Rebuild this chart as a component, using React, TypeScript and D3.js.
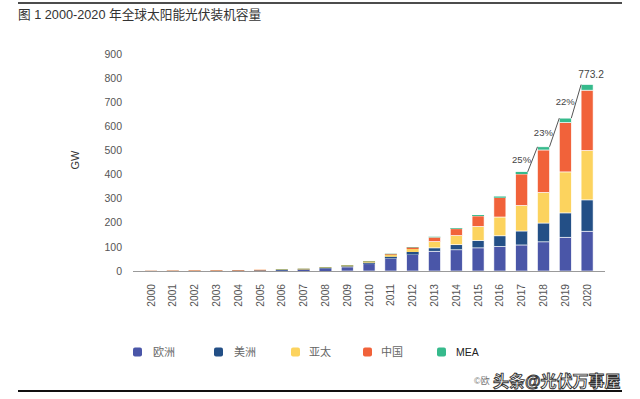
import React from "react";
import * as d3 from "d3";

const years = ["2000","2001","2002","2003","2004","2005","2006","2007","2008","2009","2010","2011","2012","2013","2014","2015","2016","2017","2018","2019","2020"];
const europe = [0.15,0.3,0.4,0.6,1.2,2.3,3.3,5.2,10.5,16.5,30,52,68,82,88,96,102,108,121,140,165];
const americas = [0.1,0.2,0.3,0.4,0.5,0.6,0.8,1.2,1.8,2.8,4.8,7.5,11,14,21,31,44,58,78,101,130];
const apac = [0.4,0.6,0.8,1.0,1.4,1.9,2.3,2.6,3.0,4.5,5.5,8,12,26,38,58,78,106,127,170,205];
const china = [0.02,0.03,0.04,0.05,0.06,0.07,0.08,0.1,0.14,0.3,0.9,3.3,7,18,28,43,80,130,176,205,250];
const mea = [0,0,0,0,0,0,0.1,0.1,0.1,0.2,0.3,0.6,1.5,2,3,4,5,9,13,18,23.2];
const seriesNames = ["欧洲","美洲","亚太","中国","MEA"];
const seriesColors = ["#4a56a8","#234f86","#fcd35e","#f1623a","#36ba8c"];
const yTicks = [0,100,200,300,400,500,600,700,800,900];
const growthYears = ["2017","2018","2019","2020"];
const growthLabels = ["25%","23%","22%"];
const finalLabel = "773.2";

export default function App() {
  const W = 640, H = 399;
  const y = d3.scaleLinear().domain([0, 900]).range([271, 54]);
  const x = d3.scaleBand<string>().domain(years).range([140.1, 598]).paddingInner(0.45).paddingOuter(0.225);
  const bw = x.bandwidth();
  const rows = years.map((yr, i) => ({ year: yr, s0: europe[i], s1: americas[i], s2: apac[i], s3: china[i], s4: mea[i] }));
  const keys = ["s0","s1","s2","s3","s4"];
  const stacked = d3.stack<any>().keys(keys)(rows);
  const totals = years.map((_, i) => europe[i] + americas[i] + apac[i] + china[i] + mea[i]);
  const font = "'Liberation Sans', Arial, 'Noto Sans CJK SC', sans-serif";

  const growthSegs = growthYears.slice(0, -1).map((yr, k) => {
    const i = years.indexOf(yr);
    const j = years.indexOf(growthYears[k + 1]);
    const x1 = (x(yr) as number) + bw;
    const y1 = y(totals[i]);
    const x2 = x(growthYears[k + 1]) as number;
    const y2 = y(totals[j]);
    return { x1, y1, x2, y2, label: growthLabels[k] };
  });
  const lastIdx = years.indexOf(growthYears[growthYears.length - 1]);

  const legendX = [133, 214, 291, 363, 437];
  const legendTextX = [153, 234, 309, 381, 456];

  return (
    <svg width={W} height={H} style={{ position: "absolute", left: 0, top: 0, background: "#fff" }} fontFamily={font}>
      <rect x={0} y={0} width={W} height={H} fill="#fff" />
      <line x1={18} x2={622} y1={3} y2={3} stroke="#111" strokeWidth={1.5} />
      <text x={18} y={18.5} fontSize={12.7} fill="#333">图 1 2000-2020 年全球太阳能光伏装机容量</text>

      {yTicks.map(t => (
        <text key={t} x={122} y={y(t)} dy="0.35em" textAnchor="end" fontSize={10.5} fill="#555">{t}</text>
      ))}
      <text transform={`translate(79,${160}) rotate(-90)`} textAnchor="middle" fontSize={11} fill="#333">GW</text>

      {stacked.map((layer, li) => (
        <g key={li} fill={seriesColors[li]}>
          {layer.map((d, i) => {
            const h = y(d[0]) - y(d[1]);
            if (h <= 0) return null;
            return <rect key={i} x={x(years[i])} y={y(d[1])} width={bw} height={Math.max(h, 0.4)} stroke="#fff" strokeWidth={h > 3 ? 0.6 : 0} />;
          })}
        </g>
      ))}

      <line x1={133} x2={605} y1={271.5} y2={271.5} stroke="#9a9a9a" strokeWidth={1} />

      {years.map(yr => (
        <text key={yr} transform={`translate(${(x(yr) as number) + bw / 2},284) rotate(-90)`} dy="0.35em" textAnchor="end" fontSize={10.2} fill="#555">{yr}</text>
      ))}

      {growthSegs.map((s, k) => {
        const mx = (s.x1 + s.x2) / 2, my = (s.y1 + s.y2) / 2;
        return (
          <g key={k}>
            <line x1={s.x1} y1={s.y1} x2={s.x2} y2={s.y2} stroke="#555" strokeWidth={1} />
            <text x={mx - 1.5} y={my} dy="0.35em" textAnchor="end" fontSize={9.5} fill="#444">{s.label}</text>
          </g>
        );
      })}
      <text x={(x(years[lastIdx]) as number) + bw / 2 + 4} y={y(totals[lastIdx]) - 7} textAnchor="middle" fontSize={10.2} fill="#444">{finalLabel}</text>

      {seriesNames.map((n, i) => (
        <g key={n}>
          <rect x={legendX[i]} y={347.5} width={9} height={9} rx={2} fill={seriesColors[i]} />
          <text x={legendTextX[i]} y={352} dy="0.35em" fontSize={i === 4 ? 10.5 : 11} fill={i === 4 ? "#222" : "#666"}>{n}</text>
        </g>
      ))}

      <text x={474} y={381} dy="0.35em" fontSize={9} fill="#777">©欧</text>
      <text x={493} y={381} dy="0.35em" fontSize={16} fill="#fff" stroke="#333" strokeWidth={0.9} fontWeight="bold">头条@光伏万事屋</text>

      <line x1={18} x2={622} y1={391} y2={391} stroke="#111" strokeWidth={1.8} />
    </svg>
  );
}
